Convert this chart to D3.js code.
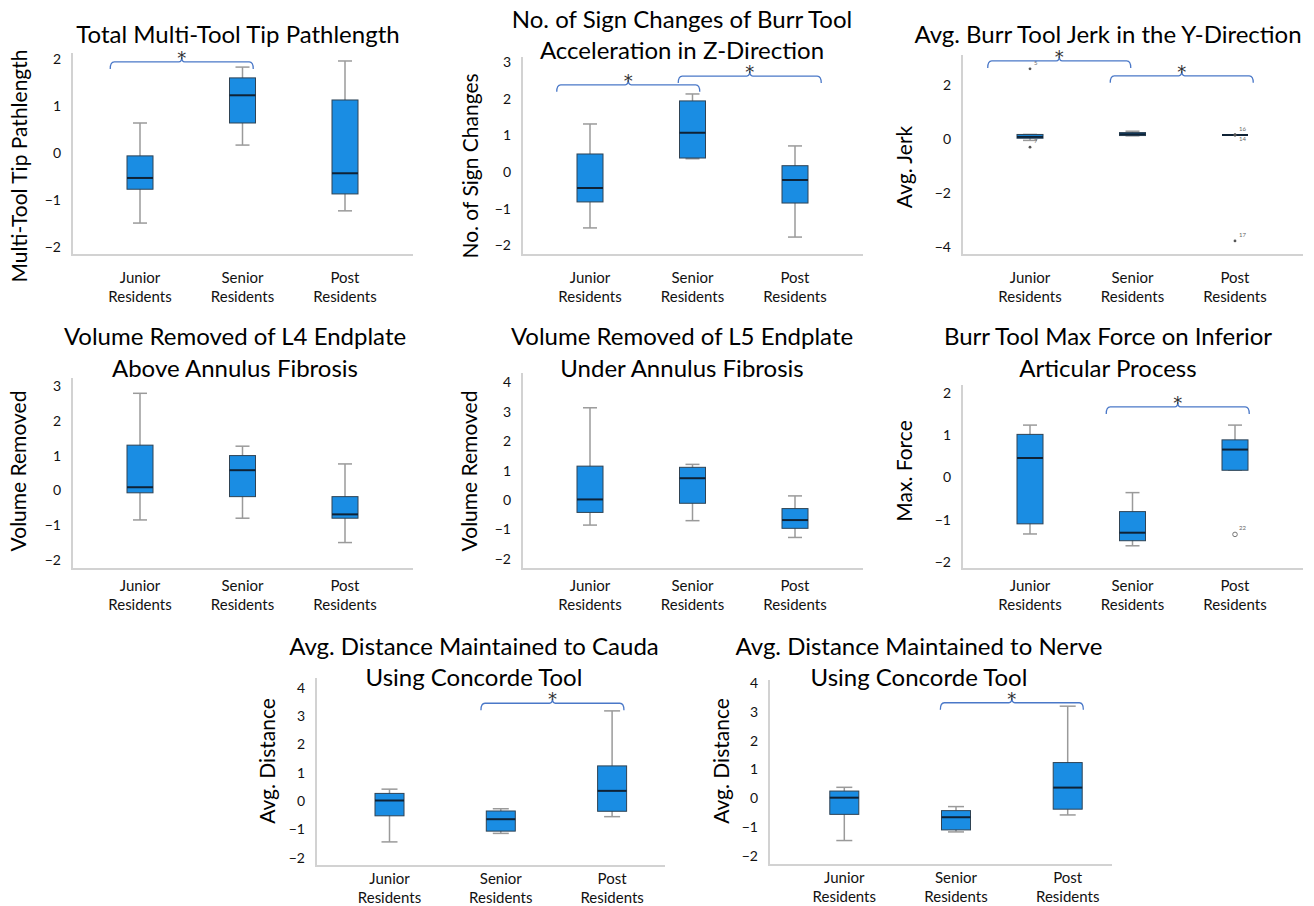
<!DOCTYPE html>
<html>
<head>
<meta charset="utf-8">
<script src="https://cdn.jsdelivr.net/npm/d3@7"></script>
<style>
  body { margin: 0; background: #fff; }
  text { font-family: Lato, "Open Sans", sans-serif; }
</style>
</head>
<body>
<div id="figure"></div>
<script>

// groups on the x axis
var groups = ["Junior Residents", "Senior Residents", "Post Residents"];

// box summaries per group: [low whisker, Q1, median, Q3, high whisker]
var pathLength  = [[-1.49, -0.77, -0.53, -0.06, 0.64], [0.17, 0.64, 1.23, 1.60, 1.83], [-1.23, -0.87, -0.43, 1.13, 1.96]];
var signChanges = [[-1.53, -0.82, -0.44, 0.49, 1.31], [0.36, 0.38, 1.07, 1.94, 2.13], [-1.78, -0.85, -0.22, 0.17, 0.71]];
var jerkY       = [[-0.05, 0.03, 0.08, 0.17, 0.17], [0.12, 0.13, 0.18, 0.24, 0.29], [0.15, 0.15, 0.15, 0.15, 0.15]];
var volL4       = [[-0.85, -0.07, 0.09, 1.30, 2.79], [-0.80, -0.18, 0.58, 1.00, 1.27], [-1.50, -0.80, -0.69, -0.18, 0.76]];
var volL5       = [[-0.85, -0.42, 0.02, 1.15, 3.13], [-0.70, -0.11, 0.74, 1.11, 1.21], [-1.27, -0.96, -0.68, -0.29, 0.14]];
var maxForce    = [[-1.34, -1.10, 0.46, 1.02, 1.24], [-1.62, -1.50, -1.31, -0.81, -0.36], [0.17, 0.17, 0.66, 0.89, 1.24]];
var distCauda   = [[-1.44, -0.52, 0.02, 0.27, 0.42], [-1.14, -1.06, -0.64, -0.35, -0.27], [-0.55, -0.36, 0.36, 1.24, 3.18]];
var distNerve   = [[-1.47, -0.56, 0.02, 0.25, 0.38], [-1.17, -1.10, -0.66, -0.43, -0.29], [-0.58, -0.38, 0.37, 1.24, 3.20]];

// outliers: [group index, value, case number]
var jerkOutliers  = [[0, 2.60, "5"], [0, -0.30, "7"], [2, 0.16, "16"], [2, 0.14, "14"], [2, -3.77, "17"]];
var forceOutliers = [[2, -1.35, "22"]];

// significance brackets: [group a, group b, value]
var pathSig  = [[0, 1, 1.94]];
var signSig  = [[0, 1, 2.38], [1, 2, 2.62]];
var jerkSig  = [[0, 1, 2.89], [1, 2, 2.34]];
var forceSig = [[1, 2, 1.67]];
var caudaSig = [[1, 2, 3.45]];
var nerveSig = [[1, 2, 3.32]];

// y tick labels
var ticks2 = [-2, -1, 0, 1, 2];
var ticks3 = [-2, -1, 0, 1, 2, 3];
var ticks4 = [-2, -1, 0, 1, 2, 3, 4];
var ticksJerk = [-4, -2, 0, 2];

var width = 1314, height = 906;

var svg = d3.select("#figure").append("svg")
  .attr("width", width)
  .attr("height", height)
  .style("background", "#fff");

var panels = [
  {title: ["Total Multi-Tool Tip Pathlength"], ylab: "Multi-Tool Tip Pathlength", stats: pathLength, ticks: ticks2, domain: [-2.17, 2.13], sig: pathSig, shift: [-9.5],
   left: 72, top: 53, right: 413, bottom: 255, pad: 68, step: 102.5, tx: 238, ty: [43], lx: 27, ly: 166, cat: 28, bw: 26, cw: 14},
  {title: ["No. of Sign Changes of Burr Tool", "Acceleration in Z-Direction"], ylab: "No. of Sign Changes", stats: signChanges, ticks: ticks3, domain: [-2.27, 3.14], sig: signSig, shift: [-13, 6],
   left: 522, top: 57, right: 863, bottom: 255, pad: 68, step: 102.5, tx: 682, ty: [28, 59], lx: 478, ly: 166, cat: 28, bw: 26, cw: 14},
  {title: ["Avg. Burr Tool Jerk in the Y-Direction"], ylab: "Avg. Jerk", stats: jerkY, ticks: ticksJerk, domain: [-4.29, 3.11], sig: jerkSig, shift: [-22, -2], out: jerkOutliers,
   left: 962, top: 55, right: 1303, bottom: 255, pad: 68, step: 102.5, tx: 1108, ty: [43], lx: 912, ly: 167, cat: 28, bw: 26, cw: 14},
  {title: ["Volume Removed of L4 Endplate", "Above Annulus Fibrosis"], ylab: "Volume Removed", stats: volL4, ticks: ticks3, domain: [-2.26, 3.23], sig: [], shift: [],
   left: 72, top: 378, right: 413, bottom: 569, pad: 68, step: 102.5, tx: 235, ty: [345, 377], lx: 26, ly: 471, cat: 22, bw: 26, cw: 14},
  {title: ["Volume Removed of L5 Endplate", "Under Annulus Fibrosis"], ylab: "Volume Removed", stats: volL5, ticks: ticks4, domain: [-2.34, 4.31], sig: [], shift: [],
   left: 522, top: 373, right: 863, bottom: 569, pad: 68, step: 102.5, tx: 682, ty: [345, 377], lx: 477, ly: 471, cat: 22, bw: 26, cw: 14},
  {title: ["Burr Tool Max Force on Inferior", "Articular Process"], ylab: "Max. Force", stats: maxForce, ticks: ticks2, domain: [-2.17, 2.19], sig: forceSig, shift: [-6], out: forceOutliers, openDots: true,
   left: 962, top: 385, right: 1303, bottom: 569, pad: 68, step: 102.5, tx: 1108, ty: [345, 377], lx: 912, ly: 471, cat: 22, bw: 26, cw: 14},
  {title: ["Avg. Distance Maintained to Cauda", "Using Concorde Tool"], ylab: "Avg. Distance", stats: distCauda, ticks: ticks4, domain: [-2.29, 4.34], sig: caudaSig, shift: [-4],
   left: 316, top: 678, right: 665, bottom: 866, pad: 73.5, step: 111.3, tx: 474, ty: [655, 686], lx: 275, ly: 761, cat: 18, bw: 29, cw: 16},
  {title: ["Avg. Distance Maintained to Nerve", "Using Concorde Tool"], ylab: "Avg. Distance", stats: distNerve, ticks: ticks4, domain: [-2.32, 4.11], sig: nerveSig, shift: [0],
   left: 769, top: 680, right: 1112, bottom: 865, pad: 75.3, step: 111.7, tx: 919, ty: [655, 686], lx: 729, ly: 761, cat: 18, bw: 29, cw: 16}
];

panels.forEach(drawPanel);

function drawPanel(p) {
  var g = svg.append("g");

  var y = d3.scaleLinear().domain(p.domain).range([p.bottom, p.top]);
  var x = d3.scalePoint().domain(groups).range([p.left + p.pad, p.left + p.pad + 2 * p.step]);

  // axis lines
  g.append("path")
    .attr("d", "M" + p.left + "," + p.top + "V" + p.bottom + "H" + p.right)
    .attr("fill", "none")
    .attr("stroke", "#d2d2d2")
    .attr("stroke-width", 2);

  var yAxis = g.append("g")
    .attr("transform", "translate(" + p.left + ",0)")
    .call(d3.axisLeft(y).tickValues(p.ticks).tickSize(0).tickPadding(11).tickFormat(d3.format("d")));
  yAxis.select(".domain").remove();
  yAxis.selectAll("text")
    .style("font-family", "Lato, sans-serif")
    .style("font-size", "14px")
    .attr("fill", "#111");

  // boxes
  var box = g.selectAll(".box")
    .data(p.stats)
    .enter().append("g")
    .attr("class", "box")
    .attr("transform", function(d, i) { return "translate(" + x(groups[i]) + ",0)"; });

  box.append("line")
    .attr("y1", function(d) { return y(d[0]); })
    .attr("y2", function(d) { return y(d[4]); })
    .attr("stroke", "#9a9a9a").attr("stroke-width", 1.5);

  [0, 4].forEach(function(k) {
    box.append("line")
      .attr("x1", -p.cw / 2).attr("x2", p.cw / 2)
      .attr("y1", function(d) { return y(d[k]); })
      .attr("y2", function(d) { return y(d[k]); })
      .attr("stroke", "#9a9a9a").attr("stroke-width", 1.5);
  });

  box.append("rect")
    .attr("x", -p.bw / 2)
    .attr("width", p.bw)
    .attr("y", function(d) { return y(d[3]); })
    .attr("height", function(d) { return y(d[1]) - y(d[3]); })
    .attr("fill", "#1a8de3")
    .attr("stroke", "#2f4354")
    .attr("stroke-width", 1);

  box.append("line")
    .attr("x1", -p.bw / 2).attr("x2", p.bw / 2)
    .attr("y1", function(d) { return y(d[2]); })
    .attr("y2", function(d) { return y(d[2]); })
    .attr("stroke", "#0f2235").attr("stroke-width", 2);

  // outliers
  if (p.out) {
    var prev = null;
    p.out.forEach(function(o) {
      var cx = x(groups[o[0]]), cy = y(o[1]);
      g.append("circle")
        .attr("cx", cx).attr("cy", cy)
        .attr("r", p.openDots ? 2.3 : 1.4)
        .attr("fill", p.openDots ? "none" : "#555")
        .attr("stroke", p.openDots ? "#777" : "none")
        .attr("stroke-width", 1);
      var below = prev && prev[0] === o[0] && Math.abs(y(prev[1]) - cy) < 4;
      g.append("text")
        .attr("x", cx + 4)
        .attr("y", below ? cy + 6 : cy - 4)
        .style("font-size", "6px")
        .attr("fill", "#666")
        .text(o[2]);
      prev = o;
    });
  }

  // significance brackets
  p.sig.forEach(function(s, i) {
    var xc = (x(groups[s[0]]) + x(groups[s[1]])) / 2 + p.shift[i];
    var x1 = xc - 71.5, x2 = xc + 71.5, yb = y(s[2]);
    g.append("path")
      .attr("d", "M" + x1 + "," + (yb + 7) + "Q" + x1 + "," + yb + " " + (x1 + 4) + "," + yb +
                 "H" + (xc - 3) + "Q" + xc + "," + yb + " " + xc + "," + (yb - 5) +
                 "Q" + xc + "," + yb + " " + (xc + 3) + "," + yb +
                 "H" + (x2 - 4) + "Q" + x2 + "," + yb + " " + x2 + "," + (yb + 7))
      .attr("fill", "none")
      .attr("stroke", "#4a78c8")
      .attr("stroke-width", 1.3);
    g.append("text")
      .attr("x", xc).attr("y", yb + 2)
      .attr("text-anchor", "middle")
      .style("font-family", "DejaVu Sans, sans-serif")
      .style("font-size", "18px")
      .attr("fill", "#333")
      .text("*");
  });

  // category labels
  groups.forEach(function(c) {
    var words = c.split(" ");
    var t = g.append("text")
      .attr("text-anchor", "middle")
      .style("font-size", "15px")
      .attr("fill", "#111");
    words.forEach(function(w, j) {
      t.append("tspan")
        .attr("x", x(c))
        .attr("y", p.bottom + p.cat + j * 19)
        .text(w);
    });
  });

  // title
  p.title.forEach(function(line, j) {
    g.append("text")
      .attr("x", p.tx).attr("y", p.ty[j])
      .attr("text-anchor", "middle")
      .style("font-size", "24px")
      .attr("fill", "#000")
      .text(line);
  });

  // y axis label
  g.append("text")
    .attr("transform", "translate(" + p.lx + "," + p.ly + ") rotate(-90)")
    .attr("text-anchor", "middle")
    .style("font-size", "21px")
    .attr("fill", "#000")
    .text(p.ylab);
}

</script>
</body>
</html>
